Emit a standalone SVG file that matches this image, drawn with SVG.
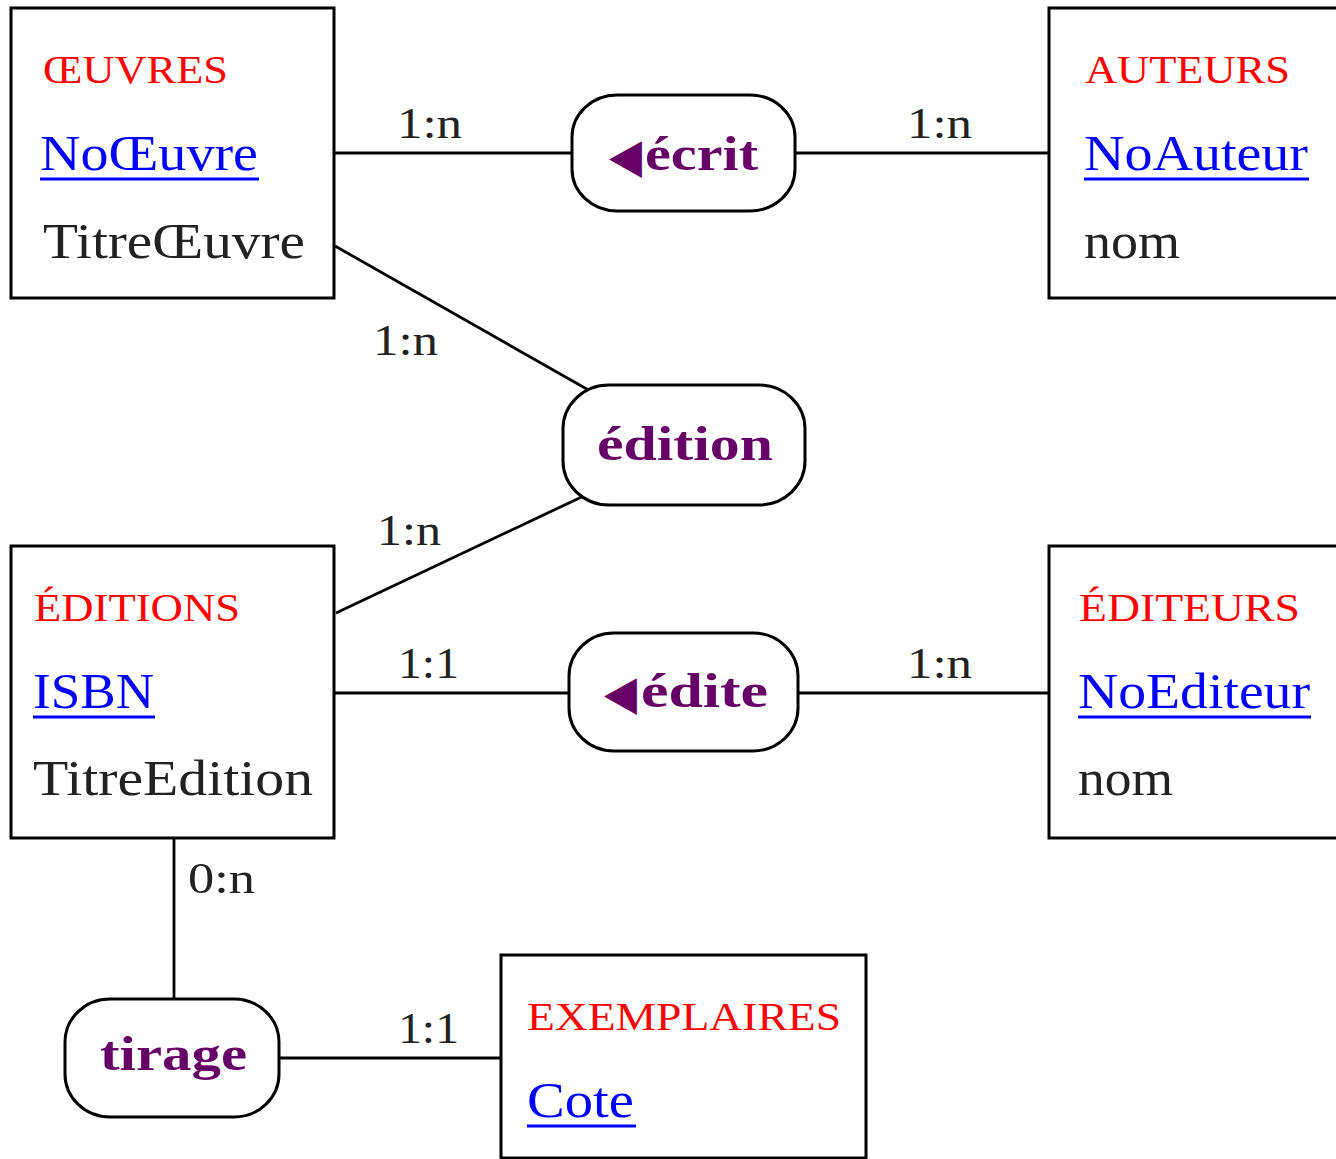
<svg xmlns="http://www.w3.org/2000/svg" width="1336" height="1159" viewBox="0 0 1336 1159">
  <style>
    .box { fill: #fff; stroke: #000; stroke-width: 3; }
    .rel { fill: #fff; stroke: #000; stroke-width: 3; }
    .link { stroke: #000; stroke-width: 2.8; fill: none; }
    text { font-family: "Liberation Serif", "DejaVu Serif", serif; }
    .title { fill: #ff0000; font-size: 40px; }
    .key { fill: #0000ff; font-size: 50px; }
    .attr { fill: #222; font-size: 50px; }
    .uline { stroke: #0000ff; stroke-width: 2.8; }
    .rname { fill: #660066; font-size: 48px; font-weight: bold; }
    .tri { font-family: "DejaVu Sans", sans-serif; font-weight: normal; font-size: 48px; }
    .card { fill: #222; font-size: 44px; }
  </style>

  <rect width="1336" height="1159" fill="#fff"/>

  <!-- connectors -->
  <g id="connectors">
    <line class="link" x1="334" y1="153" x2="572" y2="153"/>
    <line class="link" x1="795" y1="153" x2="1049" y2="153"/>
    <line class="link" x1="335" y1="246" x2="592" y2="392"/>
    <line class="link" x1="336" y1="613" x2="590" y2="493"/>
    <line class="link" x1="334" y1="693" x2="569" y2="693"/>
    <line class="link" x1="798" y1="693" x2="1049" y2="693"/>
    <line class="link" x1="174" y1="838" x2="174" y2="1000"/>
    <line class="link" x1="279" y1="1058" x2="501" y2="1058"/>
    <text class="card" x="397" y="138" textLength="65" lengthAdjust="spacingAndGlyphs">1:n</text>
    <text class="card" x="907" y="138" textLength="65" lengthAdjust="spacingAndGlyphs">1:n</text>
    <text class="card" x="373" y="355" textLength="65" lengthAdjust="spacingAndGlyphs">1:n</text>
    <text class="card" x="377" y="545" textLength="64" lengthAdjust="spacingAndGlyphs">1:n</text>
    <text class="card" x="398" y="678" textLength="61" lengthAdjust="spacingAndGlyphs">1:1</text>
    <text class="card" x="907" y="678" textLength="65" lengthAdjust="spacingAndGlyphs">1:n</text>
    <text class="card" x="188" y="893" textLength="67" lengthAdjust="spacingAndGlyphs">0:n</text>
    <text class="card" x="398" y="1043" textLength="61" lengthAdjust="spacingAndGlyphs">1:1</text>
  </g>

  <!-- entity: ŒUVRES -->
  <g id="oeuvres">
    <rect class="box" x="11" y="8" width="323" height="290"/>
    <text class="title" x="43" y="83" textLength="185" lengthAdjust="spacingAndGlyphs">ŒUVRES</text>
    <text class="key" x="40" y="170" textLength="218" lengthAdjust="spacingAndGlyphs">NoŒuvre</text>
    <line class="uline" x1="40" y1="179" x2="259" y2="179"/>
    <text class="attr" x="43" y="258" textLength="262" lengthAdjust="spacingAndGlyphs">TitreŒuvre</text>
  </g>

  <!-- entity: AUTEURS -->
  <g id="auteurs">
    <rect class="box" x="1049" y="8" width="300" height="290"/>
    <text class="title" x="1085" y="83" textLength="205" lengthAdjust="spacingAndGlyphs">AUTEURS</text>
    <text class="key" x="1084" y="170" textLength="224" lengthAdjust="spacingAndGlyphs">NoAuteur</text>
    <line class="uline" x1="1084" y1="179" x2="1309" y2="179"/>
    <text class="attr" x="1084" y="258" textLength="96" lengthAdjust="spacingAndGlyphs">nom</text>
  </g>

  <!-- entity: ÉDITIONS -->
  <g id="editions">
    <rect class="box" x="11" y="546" width="323" height="292"/>
    <text class="title" x="34" y="621" textLength="206" lengthAdjust="spacingAndGlyphs">ÉDITIONS</text>
    <text class="key" x="33" y="708" textLength="121" lengthAdjust="spacingAndGlyphs">ISBN</text>
    <line class="uline" x1="33" y1="717" x2="155" y2="717"/>
    <text class="attr" x="33" y="795" textLength="280" lengthAdjust="spacingAndGlyphs">TitreEdition</text>
  </g>

  <!-- entity: ÉDITEURS -->
  <g id="editeurs">
    <rect class="box" x="1049" y="546" width="300" height="292"/>
    <text class="title" x="1079" y="621" textLength="221" lengthAdjust="spacingAndGlyphs">ÉDITEURS</text>
    <text class="key" x="1078" y="708" textLength="232" lengthAdjust="spacingAndGlyphs">NoEditeur</text>
    <line class="uline" x1="1078" y1="717" x2="1311" y2="717"/>
    <text class="attr" x="1078" y="795" textLength="95" lengthAdjust="spacingAndGlyphs">nom</text>
  </g>

  <!-- entity: EXEMPLAIRES -->
  <g id="exemplaires">
    <rect class="box" x="501" y="955" width="365" height="203"/>
    <text class="title" x="527" y="1030" textLength="314" lengthAdjust="spacingAndGlyphs">EXEMPLAIRES</text>
    <text class="key" x="527" y="1117" textLength="107" lengthAdjust="spacingAndGlyphs">Cote</text>
    <line class="uline" x1="527" y1="1126" x2="636" y2="1126"/>
  </g>

  <!-- relationship: écrit -->
  <g id="ecrit">
    <rect class="rel" x="572" y="95" width="223" height="116" rx="45" ry="42"/>
    <text class="rname" y="172"><tspan class="tri" x="609" textLength="33" lengthAdjust="spacingAndGlyphs">◀</tspan><tspan x="645" y="170" textLength="113" lengthAdjust="spacingAndGlyphs">écrit</tspan></text>
  </g>

  <!-- relationship: édition -->
  <g id="edition">
    <rect class="rel" x="563" y="385" width="242" height="120" rx="46" ry="44"/>
    <text class="rname" x="597" y="460" textLength="176" lengthAdjust="spacingAndGlyphs">édition</text>
  </g>

  <!-- relationship: édite -->
  <g id="edite">
    <rect class="rel" x="569" y="633" width="229" height="118" rx="45" ry="43"/>
    <text class="rname" y="709"><tspan class="tri" x="604" textLength="33" lengthAdjust="spacingAndGlyphs">◀</tspan><tspan x="641" y="707" textLength="127" lengthAdjust="spacingAndGlyphs">édite</tspan></text>
  </g>

  <!-- relationship: tirage -->
  <g id="tirage">
    <rect class="rel" x="65" y="999" width="214" height="118" rx="45" ry="43"/>
    <text class="rname" x="100" y="1070" textLength="147" lengthAdjust="spacingAndGlyphs">tirage</text>
  </g>
</svg>
